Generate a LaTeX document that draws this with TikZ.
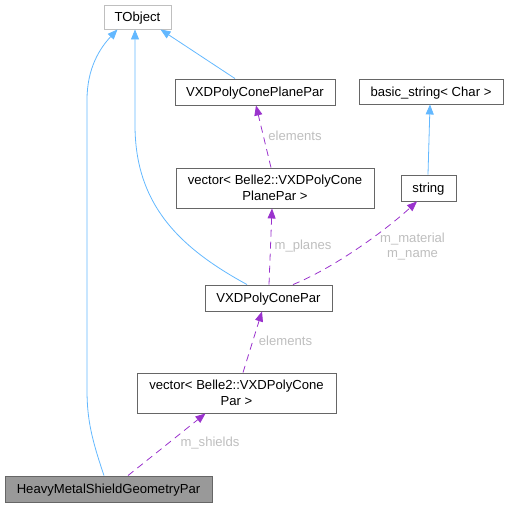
\documentclass[tikz,border=0pt]{standalone}
\usepackage{fontspec}
\setmainfont{Liberation Sans}
\usetikzlibrary{arrows.meta}
\definecolor{edgeblue}{HTML}{63B8FF}
\definecolor{edgepurple}{HTML}{9A32CD}
\definecolor{labelgray}{HTML}{BEBEBE}
\definecolor{boxgray}{HTML}{666666}
\definecolor{lightbox}{HTML}{BFBFBF}
\definecolor{fillgray}{HTML}{999999}
\begin{document}
\begin{tikzpicture}[x=1pt,y=1pt,
  font=\fontsize{13.1}{16}\selectfont,
  cls/.style={draw=boxgray,line width=0.9pt,fill=white,inner sep=0pt,align=center},
  oneline/.style={text height=11pt,text depth=1.6pt},
  inherit/.style={draw=edgeblue,line width=0.8pt,-{Triangle[length=10pt,width=8pt]}},
  usage/.style={draw=edgepurple,line width=0.8pt,dash pattern=on 7pt off 5pt,-{Triangle[length=10pt,width=8pt]}},
  lbl/.style={text=labelgray,inner sep=0pt,align=center,font=\fontsize{13.1}{14.3}\selectfont}]
\useasboundingbox (0,0) rectangle (509,-507);
\node[cls,oneline,draw=lightbox,minimum width=67pt,minimum height=24pt] (tobj) at (137.5,-17) {TObject};
\node[cls,oneline,minimum width=160pt,minimum height=26pt] (plane) at (255,-92) {VXDPolyConePlanePar};
\node[cls,oneline,minimum width=144pt,minimum height=25pt] (basic) at (431,-91.5) {basic\_string< Char >};
\node[cls,minimum width=198pt,minimum height=40pt] (vplane) at (275,-188) {vector< Belle2::VXDPolyCone\\PlanePar >};
\node[cls,oneline,minimum width=55pt,minimum height=26pt] (str) at (428.5,-188) {string};
\node[cls,oneline,minimum width=127pt,minimum height=26pt] (cone) at (268.5,-298) {VXDPolyConePar};
\node[cls,minimum width=199pt,minimum height=40pt] (vcone) at (236.5,-393) {vector< Belle2::VXDPolyCone\\Par >};
\node[cls,oneline,fill=fillgray,minimum width=207pt,minimum height=26pt] (heavy) at (108.5,-489) {HeavyMetalShieldGeometryPar};
% inheritance
\draw[inherit] ([xshift=-4.5pt]heavy.north) .. controls (92,-440) and (87,-420) .. (87,-390) -- (87,-100) .. controls (87,-68) and (100,-48) .. ([xshift=-20pt]tobj.south);
\draw[inherit] ([xshift=-21.5pt]cone.north) .. controls (180,-248) and (135,-205) .. (135,-125) -- ([xshift=-2.5pt]tobj.south);
\draw[inherit] ([xshift=-20pt]plane.north) -- ([xshift=23pt]tobj.south);
\draw[inherit] ([xshift=-0.5pt]str.north) -- ([xshift=-1pt]basic.south);
% usage
\draw[usage] ([xshift=-4pt]vplane.north) -- ([xshift=1pt]plane.south);
\node[lbl] (l1) at (295,-136) {elements};
\draw[usage] ([xshift=0.5pt]cone.north) -- ([xshift=-3pt]vplane.south);
\node[lbl] (l2) at (303,-246) {m\_planes};
\draw[usage] ([xshift=24.5pt]cone.north) .. controls (338,-266) and (388,-228) .. ([xshift=-11.5pt]str.south);
\node[lbl] (l3) at (412.5,-246.5) {m\_material\\m\_name};
\draw[usage] ([xshift=6.5pt]vcone.north) -- ([xshift=-6.5pt]cone.south);
\node[lbl] (l4) at (285.5,-341) {elements};
\draw[usage] ([xshift=19.5pt]heavy.north) -- ([xshift=-31pt]vcone.south);
\node[lbl] (l5) at (210,-443) {m\_shields};
\end{tikzpicture}
\end{document}
